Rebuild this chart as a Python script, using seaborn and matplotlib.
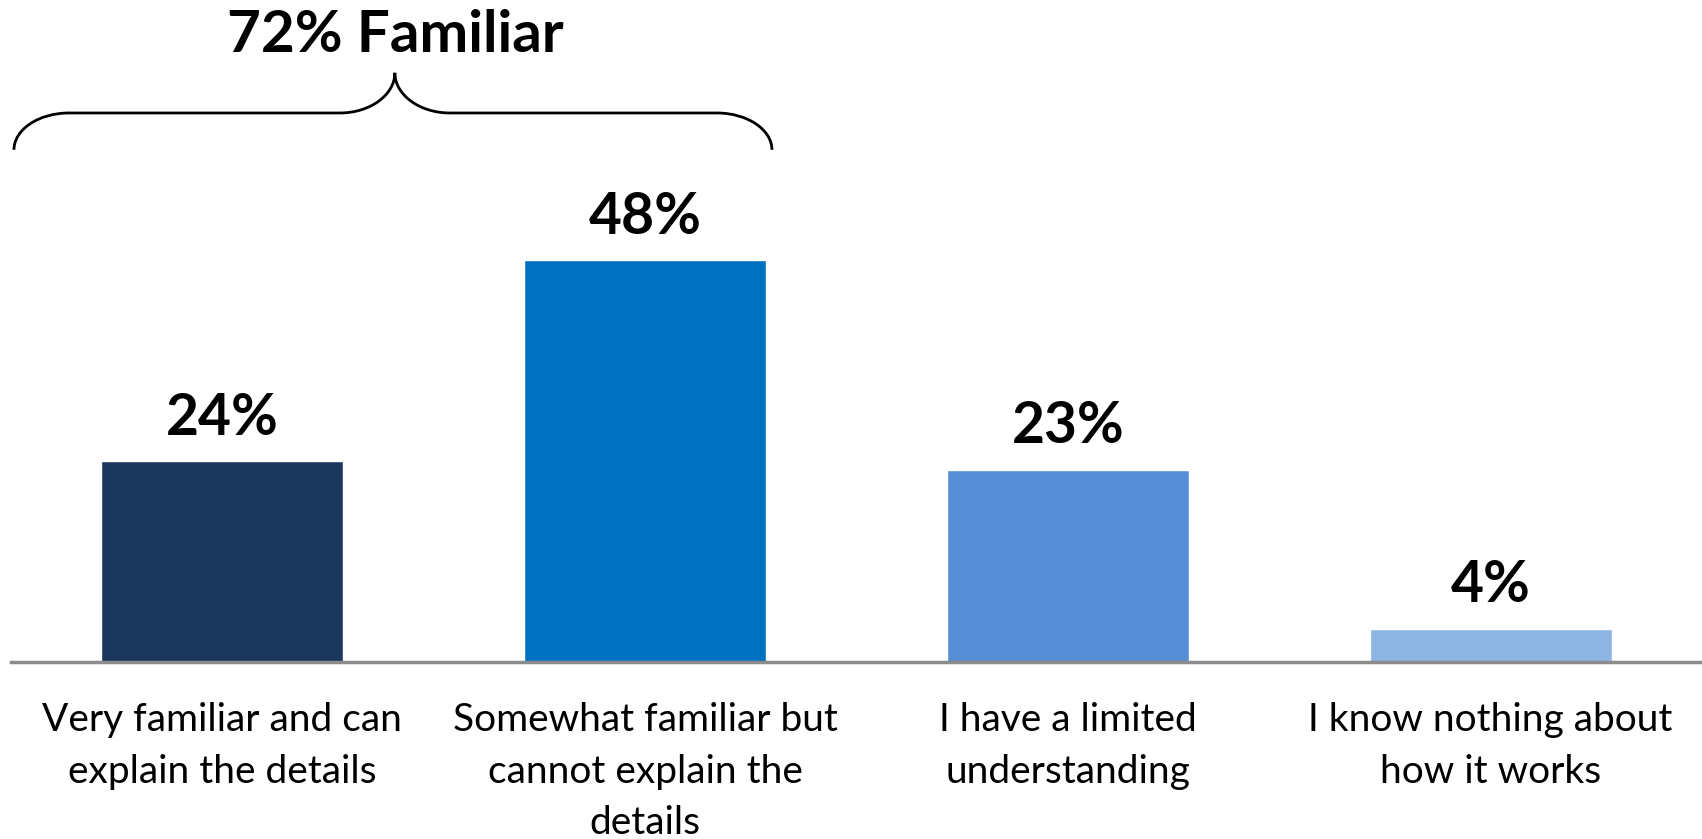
import matplotlib
matplotlib.use("Agg")
import matplotlib.pyplot as plt
from matplotlib.path import Path
from matplotlib.patches import PathPatch
import seaborn as sns
import pandas as pd

categories = [
    "Very familiar and can\nexplain the details",
    "Somewhat familiar but\ncannot explain the\ndetails",
    "I have a limited\nunderstanding",
    "I know nothing about\nhow it works",
]
values = [24, 48, 23, 4]
bar_colors = ["#1B375E", "#0070C0", "#558ED5", "#8EB4E3"]
bracket_text = "72% Familiar"

sns.set_theme(style="white")
plt.rcParams["font.family"] = ["Lato", "DejaVu Sans"]
plt.rcParams["text.color"] = "black"
plt.rcParams["xtick.color"] = "black"

df = pd.DataFrame({"cat": categories, "val": values})

fig = plt.figure(figsize=(17.02, 8.39), dpi=100)
ax = fig.add_axes([11 / 1702, (839 - 662) / 839, 1691 / 1702, 662 / 839])

sns.barplot(data=df, x="cat", y="val", hue="cat", palette=bar_colors,
            legend=False, width=0.572, saturation=1, ax=ax)

ax.set_xlim(-0.5, 3.5)
ax.set_ylim(0, 79.1)
ax.set_xlabel("")
ax.set_ylabel("")
ax.set_yticks([])
ax.tick_params(axis="x", length=0, pad=29, labelsize=28, labelcolor="black")
for lab in ax.get_xticklabels():
    lab.set_linespacing(1.53)
for s in ["top", "left", "right"]:
    ax.spines[s].set_visible(False)
ax.spines["bottom"].set_color("#8C8C8C")
ax.spines["bottom"].set_linewidth(2.5)

# value labels
for p, v in zip(ax.patches, values):
    ax.annotate(f"{v}%", (p.get_x() + p.get_width() / 2, p.get_height()),
                xytext=(0, 19), textcoords="offset points",
                ha="center", va="baseline", fontsize=41, fontweight="bold",
                color="black")

# brace over the first two bars
x0, x1, xc = -0.493, 1.30, 0.408
ye, yh, yp = 61.2, 65.6, 70.4
rx = 0.13
k = 0.55
verts = [
    (x0, ye),
    (x0, ye + k * (yh - ye)), (x0 + rx - k * rx, yh), (x0 + rx, yh),
    (xc - rx, yh),
    (xc - rx + k * rx, yh), (xc, yh + (1 - k) * (yp - yh)), (xc, yp),
    (xc, yh + (1 - k) * (yp - yh)), (xc + rx - k * rx, yh), (xc + rx, yh),
    (x1 - rx, yh),
    (x1 - rx + k * rx, yh), (x1, ye + k * (yh - ye)), (x1, ye),
]
codes = [Path.MOVETO,
         Path.CURVE4, Path.CURVE4, Path.CURVE4,
         Path.LINETO,
         Path.CURVE4, Path.CURVE4, Path.CURVE4,
         Path.CURVE4, Path.CURVE4, Path.CURVE4,
         Path.LINETO,
         Path.CURVE4, Path.CURVE4, Path.CURVE4]
ax.add_patch(PathPatch(Path(verts, codes), fill=False, lw=2, color="black",
                       clip_on=False))
ax.text(xc, 74.9, bracket_text, ha="center", va="center", fontsize=42,
        fontweight="bold", color="black", clip_on=False)

fig.savefig("out.png", dpi=100)
